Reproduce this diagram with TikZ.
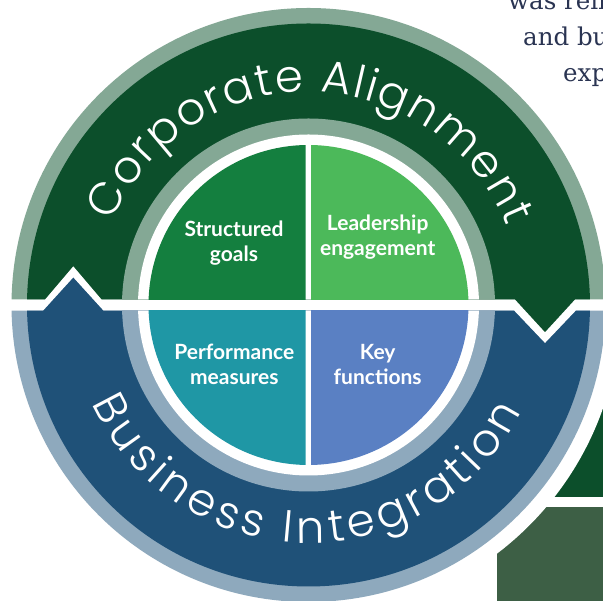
\documentclass[tikz,border=0pt]{standalone}
\usepackage{fontspec}
\usetikzlibrary{decorations.text}
\newfontfamily\ringfont{Poppins Light}
\newfontfamily\quadfont{Lato}
\newfontfamily\bodyserif{DejaVu Serif}
\definecolor{lgreen}{HTML}{84A895}
\definecolor{dgreen}{HTML}{0C4F2B}
\definecolor{lblue}{HTML}{8EA9BD}
\definecolor{dblue}{HTML}{1F5178}
\definecolor{qsg}{HTML}{147F3F}
\definecolor{qle}{HTML}{4CB95A}
\definecolor{qpm}{HTML}{1F97A5}
\definecolor{qkf}{HTML}{5A80C3}
\definecolor{boxgreen}{HTML}{3D5F45}
\definecolor{navytext}{HTML}{2A3452}
\tikzset{
  quadlabel/.style={text=white, font=\quadfont\bfseries\fontsize{21}{25}\selectfont, anchor=base, inner sep=0pt},
  bodyline/.style={text=navytext, font=\bodyserif\fontsize{24.5}{36}\selectfont, anchor=base west, inner sep=0pt},
  ringtext/.style={decorate, decoration={text along path, text align=fit to path,
     text={|\ringfont\fontsize{45}{45}\selectfont\color{white}|#1}}}
}
\begin{document}
\begin{tikzpicture}[x=1pt,y=1pt]
\useasboundingbox (0,0) rectangle (603,601);
\clip (0,0) rectangle (603,601);
\coordinate (C) at (308.5,296);
% background boxes at the right
\fill[dgreen] (520,104) rectangle (603,301);
\fill[boxgreen] (497,0) rectangle (603,94);
% white halo
\fill[white] (C) circle[radius=312pt];
% upper (green) half
\begin{scope}
  \clip (0,601) -- (0,301.7) -- (45,301.7) -- (73.3,335) -- (101.6,301.7) -- (515,301.7) -- (545,269) -- (575,301.7) -- (603,301.7) -- (603,601) -- cycle;
  \fill[lgreen] (C) circle[radius=297pt];
  \fill[dgreen] (C) circle[radius=281.5pt];
  \fill[lgreen] (C) circle[radius=186.5pt];
  \fill[white] (C) circle[radius=170.5pt];
\end{scope}
% lower (blue) half
\begin{scope}
  \clip (0,0) -- (0,290.3) -- (43.3,290.3) -- (73.3,323.3) -- (103.3,290.3) -- (514,290.3) -- (545,257.7) -- (576,290.3) -- (603,290.3) -- (603,0) -- cycle;
  \fill[lblue] (C) circle[radius=297pt];
  \fill[dblue] (C) circle[radius=281.5pt];
  \fill[lblue] (C) circle[radius=186.5pt];
  \fill[white] (C) circle[radius=170.5pt];
\end{scope}
% quadrants
\begin{scope}
  \clip (140,301.7) rectangle (305.7,470);
  \fill[qsg] (C) circle[radius=160pt];
\end{scope}
\begin{scope}
  \clip (311,301.7) rectangle (480,470);
  \fill[qle] (C) circle[radius=160pt];
\end{scope}
\begin{scope}
  \clip (140,120) rectangle (305.7,290.3);
  \fill[qpm] (C) circle[radius=160pt];
\end{scope}
\begin{scope}
  \clip (311,120) rectangle (480,290.3);
  \fill[qkf] (C) circle[radius=160pt];
\end{scope}
% ring texts
\path[ringtext={Corporate Alignment}] (C) ++(157:213pt) arc[start angle=157, end angle=21.7, radius=213pt];
\path[ringtext={Business Integration}] (C) ++(204.5:238pt) arc[start angle=204.5, end angle=333.5, radius=238pt];
% quadrant labels
\node[quadlabel] (sg1) at (234,364.3) {Structured};
\node[quadlabel] (sg2) at (234,339.3) {goals};
\node[quadlabel] (le1) at (377.7,370.3) {Leadership};
\node[quadlabel] (le2) at (377.7,345) {engagement};
\node[quadlabel] (pm1) at (234.3,241) {Performance};
\node[quadlabel] (pm2) at (234.3,216) {measures};
\node[quadlabel] (kf1) at (377.7,241) {Key};
\node[quadlabel] (kf2) at (377.7,216) {functions};
% body text at top right
\node[bodyline] (b1) at (508,591) {was rein};
\node[bodyline] (b2) at (523,555) {and bu};
\node[bodyline] (b3) at (563,519) {exp};
\end{tikzpicture}
\end{document}
